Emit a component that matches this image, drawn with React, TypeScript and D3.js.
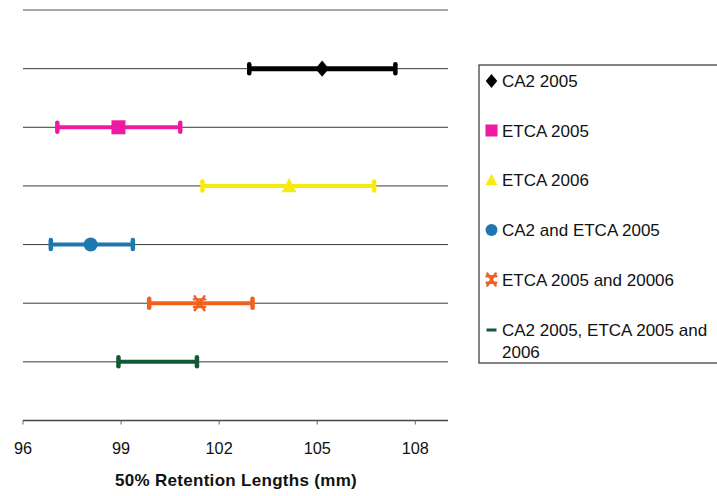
import React from "react";
import * as d3 from "d3";

const seriesNames = [
  "CA2 2005",
  "ETCA 2005",
  "ETCA 2006",
  "CA2 and ETCA 2005",
  "ETCA 2005 and 20006",
  "CA2 2005, ETCA 2005 and 2006",
];
const legendLines = [
  ["CA2 2005"],
  ["ETCA 2005"],
  ["ETCA 2006"],
  ["CA2 and ETCA 2005"],
  ["ETCA 2005 and 20006"],
  ["CA2 2005, ETCA 2005 and", "2006"],
];
const meanValues = [105.15, 98.92, 104.14, 98.07, 101.4, 100.12];
const lowerValues = [102.92, 97.05, 101.49, 96.85, 99.86, 98.92];
const upperValues = [107.39, 100.81, 106.74, 99.36, 103.02, 101.32];
const rowPositions = [6, 5, 4, 3, 2, 1];
const colors = ["#000000", "#ee1ba0", "#f7ea10", "#1d78b0", "#f45f1e", "#125a34"];
const markerKinds = ["diamond", "square", "triangle", "circle", "asterisk", "dash"];
const xTicks = [96, 99, 102, 105, 108];
const gridRows = [1, 2, 3, 4, 5, 6];

const W = 717;
const H = 496;
const FONT = "'Liberation Sans', Arial, Helvetica, sans-serif";

function Marker({ kind, x, y, s, color }: { kind: string; x: number; y: number; s: number; color: string }) {
  if (kind === "diamond") {
    const hw = s * 0.48;
    const hh = s * 0.58;
    return (
      <path d={`M${x},${y - hh} L${x + hw},${y} L${x},${y + hh} L${x - hw},${y} Z`} fill={color} />
    );
  }
  if (kind === "square") {
    return <rect x={x - s / 2} y={y - s / 2} width={s} height={s} fill={color} />;
  }
  if (kind === "triangle") {
    const h = s * 0.95;
    return (
      <path
        d={`M${x},${y - h * 0.55} L${x + s / 2},${y + h * 0.45} L${x - s / 2},${y + h * 0.45} Z`}
        fill={color}
      />
    );
  }
  if (kind === "circle") {
    return <circle cx={x} cy={y} r={s / 2} fill={color} />;
  }
  if (kind === "asterisk") {
    const r = s / 2;
    return (
      <g stroke={color} strokeWidth={2.4} strokeLinecap="round">
        <line x1={x - r * 0.7} y1={y - r} x2={x + r * 0.7} y2={y + r} />
        <line x1={x + r * 0.7} y1={y - r} x2={x - r * 0.7} y2={y + r} />
        <line x1={x - r * 0.8} y1={y - r * 0.55} x2={x + r * 0.8} y2={y - r * 0.55} />
        <line x1={x - r * 0.8} y1={y + r * 0.55} x2={x + r * 0.8} y2={y + r * 0.55} />
      </g>
    );
  }
  return <line x1={x - s / 2} y1={y} x2={x + s / 2} y2={y} stroke={color} strokeWidth={3} />;
}

export default function App() {
  const x = d3.scaleLinear().domain([96, 109]).range([23, 448]);
  const y = d3.scaleLinear().domain([0, 7]).range([420.5, 10]);
  const capH = 13;

  const legendX = 479;
  const legendTop = 65;
  const legendBottom = 363;
  const legendRowY = [81, 130.5, 180, 230, 279.5, 330];

  return (
    <svg
      width={W}
      height={H}
      style={{ position: "absolute", left: 0, top: 0, background: "#fff" }}
      fontFamily={FONT}
    >
      <rect x={0} y={0} width={W} height={H} fill="#fff" />
      <line x1={x(96)} x2={x(109)} y1={y(7)} y2={y(7)} stroke="#8a8a8a" strokeWidth={1.5} />
      {gridRows.map((r) => (
        <line key={r} x1={x(96)} x2={x(109)} y1={y(r)} y2={y(r)} stroke="#3a3a3a" strokeWidth={1} />
      ))}
      <line x1={x(96)} x2={x(109)} y1={y(0)} y2={y(0)} stroke="#444" strokeWidth={1.5} />
      {xTicks.map((t) => (
        <g key={t}>
          <line x1={x(t)} x2={x(t)} y1={y(0)} y2={y(0) + 4} stroke="#666" strokeWidth={1} />
          <text x={x(t)} y={y(0) + 33} textAnchor="middle" fontSize={16.3} fill="#111">
            {t}
          </text>
        </g>
      ))}
      <text x={236} y={486} textAnchor="middle" fontSize={17} fontWeight="bold" fill="#111" letterSpacing={0.3}>
        50% Retention Lengths (mm)
      </text>

      {seriesNames.map((name, i) => {
        const yy = y(rowPositions[i]);
        const c = colors[i];
        const sw = i === 0 ? 5 : 4;
        return (
          <g key={name}>
            <line x1={x(lowerValues[i])} x2={x(upperValues[i])} y1={yy} y2={yy} stroke={c} strokeWidth={sw} />
            {[lowerValues[i], upperValues[i]].map((v, k) => (
              <line
                key={k}
                x1={x(v)}
                x2={x(v)}
                y1={yy - capH / 2 + 2}
                y2={yy + capH / 2 - 2}
                stroke={c}
                strokeWidth={4.5}
                strokeLinecap="round"
              />
            ))}
            {markerKinds[i] !== "dash" && (
              <Marker
                kind={markerKinds[i]}
                x={x(meanValues[i])}
                y={yy}
                s={markerKinds[i] === "triangle" ? 15 : markerKinds[i] === "diamond" ? 14 : 14}
                color={c}
              />
            )}
          </g>
        );
      })}

      <rect
        x={legendX}
        y={legendTop}
        width={W - legendX + 5}
        height={legendBottom - legendTop}
        fill="#fff"
        stroke="#333"
        strokeWidth={1.2}
      />
      {seriesNames.map((name, i) => {
        const ly = legendRowY[i];
        return (
          <g key={name}>
            <Marker
              kind={markerKinds[i]}
              x={491.5}
              y={ly}
              s={markerKinds[i] === "triangle" ? 12 : markerKinds[i] === "dash" ? 10 : 12}
              color={colors[i]}
            />
            {legendLines[i].map((line, k) => (
              <text key={k} x={502} y={ly + k * 22} dy="0.36em" fontSize={17} fill="#111">
                {line}
              </text>
            ))}
          </g>
        );
      })}
    </svg>
  );
}
